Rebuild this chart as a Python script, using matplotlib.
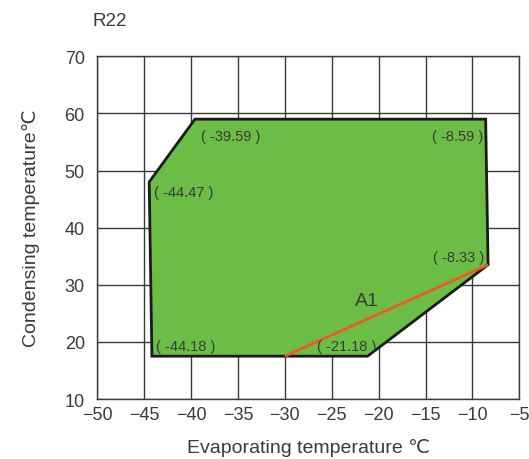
import matplotlib
matplotlib.use("Agg")
import matplotlib.pyplot as plt
from matplotlib.patches import Polygon

plt.rcParams['font.family'] = ['Liberation Sans', 'DejaVu Sans']

# Operating envelope corners (evaporating, condensing)
evap = [-44.18, -44.47, -39.59, -8.59, -8.33, -21.18]
cond = [17.5, 48.0, 59.0, 59.0, 33.5, 17.5]
corner_labels = ["( -44.18 )", "( -44.47 )", "( -39.59 )", "( -8.59 )", "( -8.33 )", "( -21.18 )"]

# A1 boundary line
a1_evap = [-30.0, -8.33]
a1_cond = [17.5, 33.5]

x_ticks = [-50, -45, -40, -35, -30, -25, -20, -15, -10, -5]
y_ticks = [10, 20, 30, 40, 50, 60, 70]

fig = plt.figure(figsize=(5.29, 4.60), dpi=100)
ax = fig.add_axes([0.184, 0.1304, 0.7977, 0.745])
ax.set_xlim(-50, -5)
ax.set_ylim(10, 70)
ax.set_xticks(x_ticks)
ax.set_yticks(y_ticks)
ax.set_xticklabels([f"\u2212{abs(v)}" for v in x_ticks])
ax.grid(True, color="#3a3a3a", linewidth=1.0)
ax.set_axisbelow(True)
for s in ax.spines.values():
    s.set_color("#3a3a3a")
    s.set_linewidth(1.0)
ax.tick_params(length=0, labelsize=13, colors="#3a3a3a")
ax.tick_params(axis='y', pad=9)
ax.tick_params(axis='x', pad=5)

poly = Polygon(list(zip(evap, cond)), closed=True, facecolor="#6bbd45",
               edgecolor="#1a1a1a", linewidth=2.0, zorder=3)
ax.add_patch(poly)
ax.plot(a1_evap, a1_cond, color="#ee5a24", linewidth=2.0, zorder=4,
        solid_capstyle="butt")

lab_kw = dict(fontsize=10.5, color="#3a3a3a", zorder=5)
ax.text(-43.75, 19.3, corner_labels[0], ha="left", va="center", **lab_kw)
ax.text(-43.95, 46.2, corner_labels[1], ha="left", va="center", **lab_kw)
ax.text(-38.95, 56.1, corner_labels[2], ha="left", va="center", **lab_kw)
ax.text(-8.85, 56.1, corner_labels[3], ha="right", va="center", **lab_kw)
ax.text(-8.75, 34.9, corner_labels[4], ha="right", va="center", **lab_kw)
ax.text(-26.6, 19.3, corner_labels[5], ha="left", va="center", **lab_kw)
ax.text(-21.3, 27.2, "A1", ha="center", va="center", fontsize=14,
        color="#3a3a3a", zorder=5)

ax.set_xlabel("Evaporating temperature \u2103", fontsize=14, color="#3a3a3a",
              labelpad=11)
ax.set_ylabel("Condensing temperature\u2103", fontsize=14, color="#3a3a3a",
              labelpad=18)
fig.text(93 / 529, 1 - 21 / 460, "R22", fontsize=13.5, color="#3a3a3a",
         ha="left", va="center")

fig.savefig("out.png", dpi=100, facecolor="white")
